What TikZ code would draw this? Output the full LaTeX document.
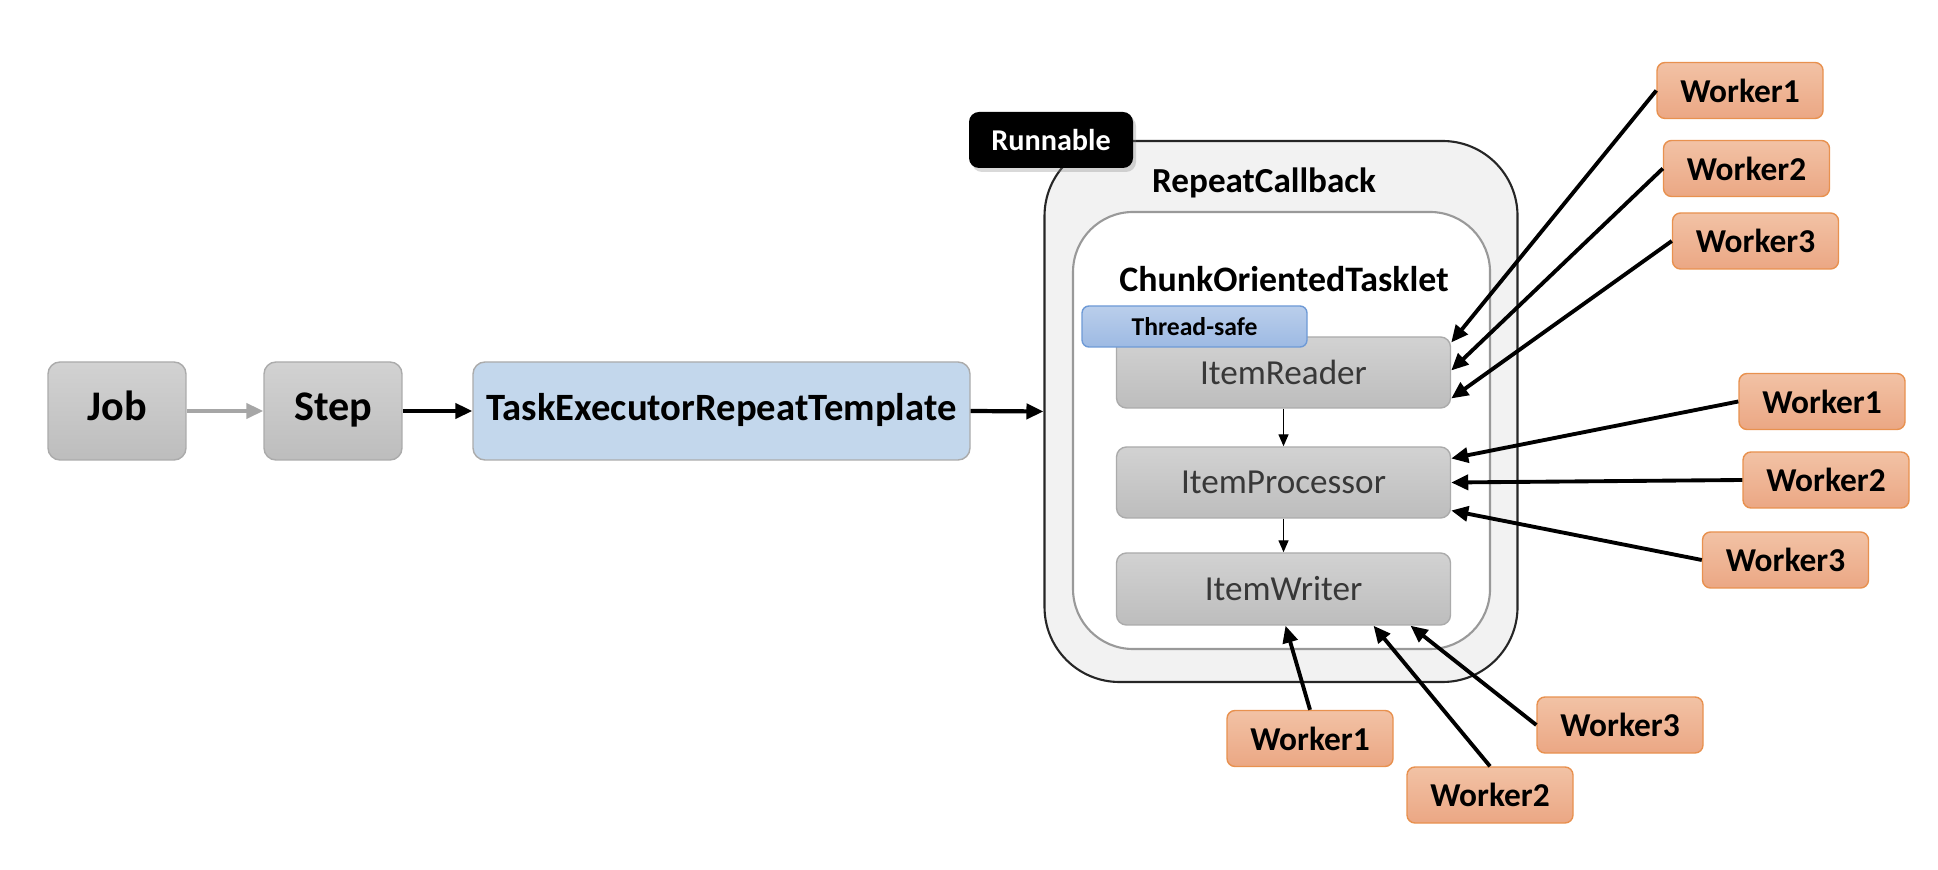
\documentclass[tikz,border=0pt]{standalone}
\usepackage{fontspec}
\setmainfont{Carlito}
\usetikzlibrary{arrows.meta,shadows}
\definecolor{boxline}{HTML}{ABABAB}
\definecolor{greytop}{HTML}{D2D2D2}
\definecolor{greybot}{HTML}{BDBDBD}
\definecolor{tplfill}{HTML}{C3D7EC}
\definecolor{safetop}{HTML}{BACEEB}
\definecolor{safebot}{HTML}{9DBAE3}
\definecolor{safeline}{HTML}{6E9AD6}
\definecolor{worktop}{HTML}{F2C2A5}
\definecolor{workbot}{HTML}{EBA784}
\definecolor{workline}{HTML}{E8914F}
\definecolor{itemtext}{HTML}{383838}

\begin{document}
\begin{tikzpicture}[
	greybox/.style={draw=boxline, rounded corners=0.12cm, top color=greytop, bottom color=greybot, minimum height=0.98cm, text height=1.6ex, text depth=0.45ex, font=\fontsize{12}{14}\selectfont\bfseries},
	itembox/.style={draw=boxline, rounded corners=0.1cm, top color=greytop, bottom color=greybot, minimum width=3.34cm, text=itemtext, font=\fontsize{10}{12}\selectfont},
	worker/.style={draw=workline, rounded corners=0.08cm, top color=worktop, bottom color=workbot, minimum width=1.66cm, minimum height=0.56cm, font=\fontsize{9.5}{11}\selectfont\bfseries},
	warrow/.style={-{Triangle[length=0.17cm,width=0.15cm]}, line width=1.1pt},
	smallarrow/.style={-{Triangle[length=0.12cm,width=0.1cm]}, line width=0.4pt},
]
	\useasboundingbox (0,0) rectangle (19.38,-8.70);
	\node[greybox, minimum width=1.38cm] (job) at (1.17,-4.11) {Job};
	\node[greybox, minimum width=1.38cm] (step) at (3.33,-4.11) {Step};
	\node[greybox, top color=tplfill, bottom color=tplfill, minimum width=4.97cm, font=\fontsize{11}{13}\selectfont\bfseries] (template) at (7.215,-4.11) {TaskExecutorRepeatTemplate};
	\node[draw=black!85, line width=0.6pt, fill=black!5, rounded corners=0.75cm, minimum width=4.73cm, minimum height=5.41cm] (callback) at (12.81,-4.115) {};
	\node[font=\fontsize{10}{12}\selectfont\bfseries] (cbtitle) at (12.64,-1.83) {RepeatCallback};
	\node[draw=black!40, line width=0.6pt, fill=white, rounded corners=0.6cm, minimum width=4.17cm, minimum height=4.37cm] (tasklet) at (12.815,-4.305) {};
	\node[font=\fontsize{10.2}{12}\selectfont\bfseries] (cttitle) at (12.84,-2.79) {ChunkOrientedTasklet};
	\node[itembox, minimum height=0.71cm] (reader) at (12.835,-3.725) {ItemReader};
	\node[itembox, minimum height=0.71cm] (processor) at (12.835,-4.825) {ItemProcessor};
	\node[itembox, minimum height=0.72cm] (writer) at (12.835,-5.89) {ItemWriter};
	\node[draw=safeline, rounded corners=0.07cm, top color=safetop, bottom color=safebot, minimum width=2.25cm, minimum height=0.41cm, inner sep=0pt, font=\fontsize{7.3}{9}\selectfont\bfseries] (safe) at (11.945,-3.265) {Thread-safe};
	\node[fill=black, text=white, rounded corners=0.1cm, minimum width=1.64cm, minimum height=0.56cm, drop shadow={opacity=0.3, shadow xshift=0.03cm, shadow yshift=-0.04cm}, font=\fontsize{8.6}{10}\selectfont\bfseries] (runnable) at (10.51,-1.40) {Runnable};
	\node[worker] (r1) at (17.40,-0.905) {Worker1};
	\node[worker] (r2) at (17.465,-1.685) {Worker2};
	\node[worker] (r3) at (17.555,-2.41) {Worker3};
	\node[worker] (p1) at (18.22,-4.015) {Worker1};
	\node[worker] (p2) at (18.26,-4.80) {Worker2};
	\node[worker] (p3) at (17.855,-5.60) {Worker3};
	\node[worker] (w1) at (13.10,-7.385) {Worker1};
	\node[worker] (w2) at (14.90,-7.95) {Worker2};
	\node[worker] (w3) at (16.20,-7.25) {Worker3};
	\draw[-{Triangle[length=0.17cm,width=0.15cm]}, line width=1.2pt, draw=black!35] (job) -- (step);
	\draw[-{Triangle[length=0.17cm,width=0.15cm]}, line width=1.4pt] (step) -- (template);
	\draw[-{Triangle[length=0.17cm,width=0.15cm]}, line width=1.2pt] (template.east) -- (callback.west);
	\draw[smallarrow] (reader) -- (processor);
	\draw[smallarrow] (processor) -- (writer);
	\draw[warrow] (r1.west) -- ([yshift=0.3cm]reader.east);
	\draw[warrow] (r2.west) -- ([yshift=0.02cm]reader.east);
	\draw[warrow] (r3.west) -- ([yshift=-0.26cm]reader.east);
	\draw[warrow] (p1.west) -- ([yshift=0.24cm]processor.east);
	\draw[warrow] (p2.west) -- (processor.east);
	\draw[warrow] (p3.west) -- ([yshift=-0.28cm]processor.east);
	\draw[warrow] (w1.north) -- ([xshift=0.02cm]writer.south);
	\draw[warrow] (w2.north) -- ([xshift=0.9cm]writer.south);
	\draw[warrow] (w3.west) -- ([xshift=1.27cm]writer.south);
\end{tikzpicture}
\end{document}
